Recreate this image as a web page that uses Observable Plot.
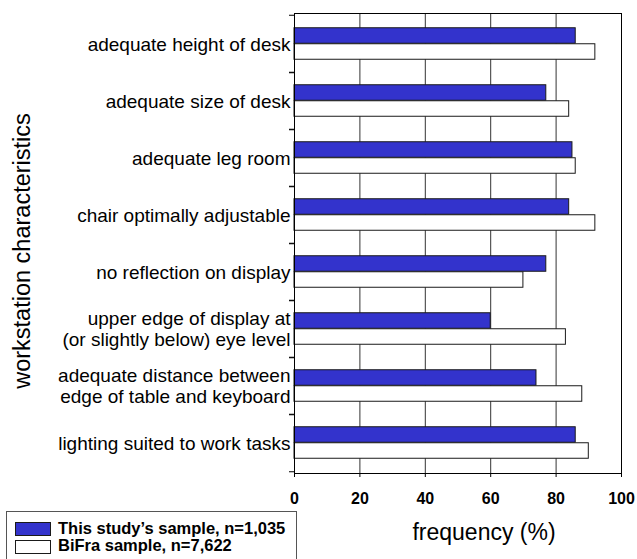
<!DOCTYPE html>
<html><head><meta charset="utf-8">
<script src="https://cdn.jsdelivr.net/npm/d3@7"></script>
<script src="https://cdn.jsdelivr.net/npm/@observablehq/plot@0.6"></script>
<style>body{margin:0;background:#fff;} svg{display:block}</style>
</head><body><div id="chart"></div>
<script>
const categories = [
  "adequate height of desk",
  "adequate size of desk",
  "adequate leg room",
  "chair optimally adjustable",
  "no reflection on display",
  "upper edge of display at\n(or slightly below) eye level",
  "adequate distance between\nedge of table and keyboard",
  "lighting suited to work tasks"
];
const thisStudy = [86, 77, 85, 84, 77, 60, 74, 86];
const bifra = [92, 84, 86, 92, 70, 83, 88, 90];
const seriesNames = ["This study\u2019s sample, n=1,035", "BiFra sample, n=7,622"];
const seriesColors = ["#3333cc", "#ffffff"];
const xTicks = [0, 20, 40, 60, 80, 100];
const gridTicks = [20, 40, 60, 80];
const yTitle = "workstation characteristics";
const xTitle = "frequency (%)";

const rowsA = categories.map((c, i) => ({category: c, value: thisStudy[i]}));
const rowsB = categories.map((c, i) => ({category: c, value: bifra[i]}));

const W = 637, H = 559, mT = 13, mB = 86, mL = 294, mR = 16;
const band = (H - mT - mB) / categories.length;
const barH = 16;
const font = "'Liberation Sans', Arial, Helvetica, sans-serif";

const plot = Plot.plot({
  width: W, height: H,
  marginTop: mT, marginBottom: mB, marginLeft: mL, marginRight: mR,
  style: {fontFamily: font, background: "white", color: "black", overflow: "visible"},
  x: {domain: [0, 100], ticks: xTicks},
  y: {domain: categories, padding: 0},
  marks: [
    Plot.ruleX(gridTicks, {stroke: "#333", strokeWidth: 1}),
    Plot.barX(rowsA, {y: "category", x: "value", fill: seriesColors[0], stroke: "#1a1a1a", strokeWidth: 1,
      insetTop: band / 2 - barH, insetBottom: band / 2}),
    Plot.barX(rowsB, {y: "category", x: "value", fill: seriesColors[1], stroke: "#1a1a1a", strokeWidth: 1,
      insetTop: band / 2, insetBottom: band / 2 - barH}),
    Plot.frame({stroke: "black"}),
    Plot.axisX({ticks: xTicks, tickSize: 4, tickPadding: 15, fontSize: 16, fontWeight: "bold", label: null}),
    Plot.axisY({tickSize: 0, tickPadding: 4, fontSize: 19, label: null, lineHeight: 1.1}),
    Plot.axisY({tickSize: 5, tickFormat: () => "", dy: -band / 2, label: null}),
    Plot.axisY({tickSize: 5, tickFormat: () => "", dy: band / 2, label: null}),
    Plot.text([xTitle], {text: d => d, frameAnchor: "bottom", dy: 59, dx: 26, fontSize: 23, lineAnchor: "middle"})
  ]
});

document.getElementById("chart").appendChild(plot);

const svg = d3.select(plot);
// y-axis title
svg.append("text")
  .attr("transform", "translate(30,251) rotate(-90)")
  .attr("text-anchor", "middle")
  .attr("font-family", font).attr("font-size", 23.5).attr("fill", "black")
  .text(yTitle);

// legend
const lg = svg.append("g").attr("font-family", font).attr("text-anchor", "start");
lg.append("rect").attr("x", 6.5).attr("y", 511.5).attr("width", 290).attr("height", 60)
  .attr("fill", "white").attr("stroke", "#555");
seriesNames.forEach((name, i) => {
  lg.append("rect").attr("x", 15.5).attr("y", 522.5 + i * 18).attr("width", 35).attr("height", 13)
    .attr("fill", seriesColors[i]).attr("stroke", "#1a1a1a");
  lg.append("text").attr("x", 58).attr("y", 533.5 + i * 17).attr("font-size", 16.5).attr("font-weight", "bold")
    .attr("fill", "black").text(name);
});
</script>
</body></html>
